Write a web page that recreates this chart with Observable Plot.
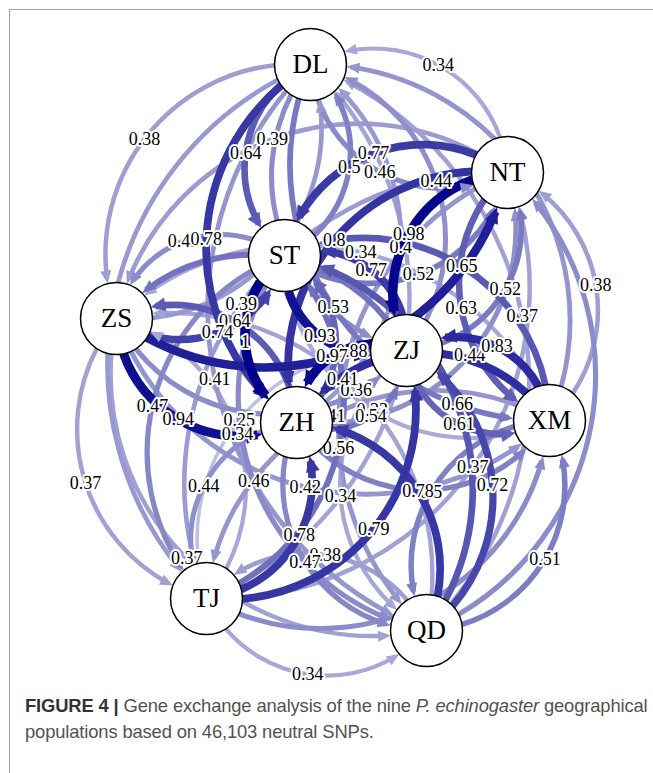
<!DOCTYPE html>
<html><head><meta charset="utf-8">
<script src="https://cdn.jsdelivr.net/npm/d3@7"></script>
<script src="https://cdn.jsdelivr.net/npm/@observablehq/plot@0.6"></script>
<style>
body{margin:0;background:#fff;width:653px;height:773px;overflow:hidden;position:relative}
#frame{position:absolute;left:9px;top:9px;width:660px;height:780px;border-left:1.5px solid #a3a3a3;border-top:1.5px solid #a3a3a3}
#chart{position:absolute;left:0;top:0}
#caption{position:absolute;left:25px;top:693px;font-family:"Liberation Sans",Arial,sans-serif;font-size:18.4px;line-height:26px;color:#525252;white-space:nowrap;letter-spacing:-0.15px}
#caption b{color:#333}
</style></head><body>
<div id="frame"></div>
<div id="chart"></div>
<div id="caption"><b>FIGURE 4 |</b> Gene exchange analysis of the nine <i>P. echinogaster</i> geographical<br>populations based on 46,103 neutral SNPs.</div>
<script>
// Nodes (layout)
const nodeNames = ["DL","NT","ST","ZS","ZJ","ZH","XM","TJ","QD"];
const nodeX = [310,507,284,116,406,296,549,206,426];
const nodeY = [64,172,255,318,350,422,420,598,630];

// Directed edges: from, to, weight, label visible
const edgeFrom = ["NT","DL","DL","ST","DL","ZS","DL","ZJ","DL","ZH","DL","XM","DL","TJ","DL","QD",
  "NT","ST","NT","ZS","NT","ZJ","NT","ZH","NT","XM","NT","TJ","NT","QD",
  "ST","ZS","ST","ZJ","ST","ZH","ST","XM","ST","TJ","ST","QD",
  "ZS","ZJ","ZS","ZH","ZS","XM","ZS","TJ","ZS","QD",
  "ZJ","ZH","ZJ","XM","ZJ","TJ","ZJ","QD",
  "ZH","XM","ZH","TJ","ZH","QD",
  "XM","TJ","XM","QD","TJ","QD"];
const edgeTo = ["DL","NT","ST","DL","ZS","DL","ZJ","DL","ZH","DL","XM","DL","TJ","DL","QD","DL",
  "ST","NT","ZS","NT","ZJ","NT","ZH","NT","XM","NT","TJ","NT","QD","NT",
  "ZS","ST","ZJ","ST","ZH","ST","XM","ST","TJ","ST","QD","ST",
  "ZJ","ZS","ZH","ZS","XM","ZS","TJ","ZS","QD","ZS",
  "ZH","ZJ","XM","ZJ","TJ","ZJ","QD","ZJ",
  "XM","ZH","TJ","ZH","QD","ZH",
  "TJ","XM","QD","XM","QD","TJ"];
const edgeWeight = [0.34,0.46,0.64,0.5,0.38,0.4,0.45,0.44,0.78,0.4,0.53,0.42,0.4,0.36,0.41,0.37,
  0.77,0.52,0.39,0.88,0.98,0.52,0.8,0.44,0.63,0.38,0.39,0.37,0.41,0.45,
  0.45,0.74,0.93,0.77,1,0.6,0.33,0.65,0.47,0.56,0.46,0.66,
  0.45,0.55,0.94,0.64,0.42,0.34,0.37,0.34,0.37,0.36,
  0.97,0.54,0.61,0.83,0.25,0.79,0.34,0.72,
  0.5,0.82,0.44,0.78,0.47,0.78,
  0.41,0.45,0.5,0.51,0.34,0.38];
const edgeLabelShown = [1,1,1,1,1,0,0,1,1,1,1,0,0,0,1,1,
  1,1,1,1,1,1,1,1,1,1,1,1,1,0,
  1,1,1,1,1,0,1,1,1,1,1,1,
  0,0,1,1,1,1,1,1,1,1,
  1,1,1,1,1,1,1,1,
  0,0,1,1,1,1,
  1,0,1,1,1,1];

const BEND = 57;               // qgraph-like curvature (degrees)
const NODE_R = 36;
const bRad = BEND * Math.PI / 180;
const idx = Object.fromEntries(nodeNames.map((n, i) => [n, i]));
const nodes = nodeNames.map((name, i) => ({name, x: nodeX[i], y: nodeY[i]}));

// arc geometry (edges bulge to the right of their direction of travel)
const edges = edgeFrom.map((f, i) => {
  const a = idx[f], b = idx[edgeTo[i]];
  const x1 = nodeX[a], y1 = nodeY[a], x2 = nodeX[b], y2 = nodeY[b];
  const dx = x2 - x1, dy = y2 - y1, d = Math.hypot(dx, dy);
  const nx = -dy / d, ny = dx / d;
  const R = d / (2 * Math.sin(bRad));
  const sag = R * (1 - Math.cos(bRad));
  const cx = (x1 + x2) / 2 - nx * R * Math.cos(bRad), cy = (y1 + y2) / 2 - ny * R * Math.cos(bRad);
  const te = Math.atan2(y2 - cy, x2 - cx) + 2 * Math.asin(NODE_R / (2 * R));
  const tx = Math.sin(te), ty = -Math.cos(te);
  return {x1, y1, x2, y2, w: edgeWeight[i], shown: edgeLabelShown[i] === 1,
    lx: (x1 + x2) / 2 + nx * sag, ly: (y1 + y2) / 2 + ny * sag,
    hx: cx + R * Math.cos(te), hy: cy + R * Math.sin(te),
    rot: Math.atan2(tx, -ty) * 180 / Math.PI};
}).sort((p, q) => p.w - q.w);

const W = 653, H = 690;
const chart = Plot.plot({
  width: W, height: H, margin: 0,
  x: {domain: [0, W], range: [0, W], axis: null},
  y: {domain: [0, H], range: [0, H], axis: null},
  color: {type: "linear", domain: [0, 1], range: ["#ffffff", "#00008b"], interpolate: "rgb"},
  length: {type: "identity"},
  style: {background: "transparent", overflow: "visible"},
  marks: [
    Plot.arrow(edges, {x1: "x1", y1: "y1", x2: "x2", y2: "y2", bend: -BEND,
      insetStart: NODE_R, insetEnd: NODE_R + 5,
      stroke: "w", strokeWidth: d => 1.5 + 8 * d.w, headLength: 0, strokeLinecap: "butt"}),
    Plot.vector(edges.filter(d => d.w < 0.6), {x: "hx", y: "hy", rotate: "rot", anchor: "end", shape: "spike",
      length: d => 11 + 5 * d.w, r: 5.5, fill: "w", stroke: "none"}),
    Plot.vector(edges.filter(d => d.w >= 0.6), {x: "hx", y: "hy", rotate: "rot", anchor: "end", shape: "spike",
      length: d => 11 + 6 * d.w, r: 7, fill: "w", stroke: "none"}),
    Plot.text(edges.filter(d => d.shown), {x: "lx", y: "ly", text: d => String(d.w),
      fontFamily: "'Liberation Serif', 'Times New Roman', serif", fontSize: 18, fill: "black",
      stroke: "white", strokeWidth: 4, paintOrder: "stroke"}),
    Plot.dot(nodes, {x: "x", y: "y", r: NODE_R, fill: "white", stroke: "black", strokeWidth: 1.5}),
    Plot.text(nodes, {x: "x", y: "y", text: "name", fontFamily: "'Liberation Serif', serif", fontSize: 27, fill: "black"})
  ]
});
document.getElementById("chart").appendChild(chart);
</script>
</body></html>
